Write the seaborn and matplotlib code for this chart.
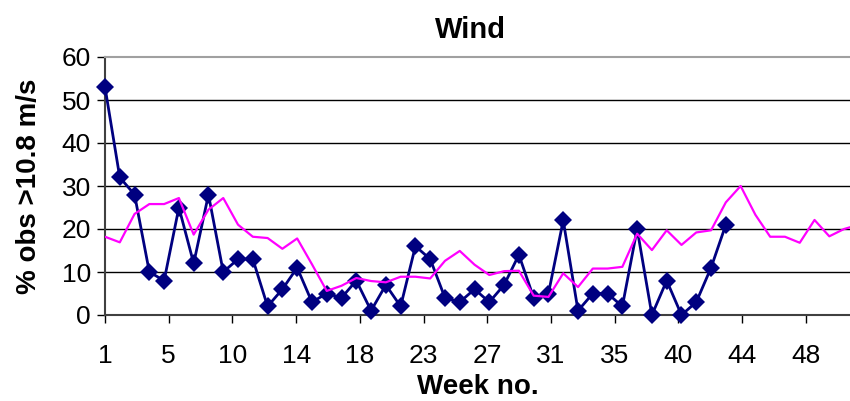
import numpy as np
import pandas as pd
import matplotlib
matplotlib.use("Agg")
import matplotlib.pyplot as plt
import seaborn as sns

# ---- data ----
weeks_obs = list(range(1, 44))
obs_pct = [53, 32, 28, 10, 8, 25, 12, 28, 10, 13, 13, 2, 6, 11, 3, 5, 4, 8, 1, 7,
           2, 16, 13, 4, 3, 6, 3, 7, 14, 4, 5, 22, 1, 5, 5, 2, 20, 0, 8, 0,
           3, 11, 21]
weeks_clim = list(range(1, 53))
clim_pct = [18.2, 16.9, 23.5, 25.8, 25.8, 27.2, 18.7, 24.5, 27.2, 21.0,
            18.2, 17.9, 15.4, 17.8, 11.8, 5.6, 6.8, 8.6, 7.9, 7.6,
            8.9, 8.9, 8.5, 12.6, 14.9, 11.7, 9.3, 10.2, 10.3, 4.5,
            4.2, 9.7, 6.5, 10.8, 10.8, 11.2, 18.9, 15.1, 19.7, 16.3,
            19.2, 19.7, 26.2, 30.0, 23.3, 18.2, 18.2, 16.8, 22.1, 18.3,
            20.0, 21.0]
tick_labels = ["1", "5", "10", "14", "18", "23", "27", "31", "35", "40", "44", "48"]
y_ticks = [0, 10, 20, 30, 40, 50, 60]

title = "Wind"
xlabel = "Week no."
ylabel = "% obs >10.8 m/s"

df_obs = pd.DataFrame({"week": weeks_obs, "pct": obs_pct})
df_clim = pd.DataFrame({"week": weeks_clim, "pct": clim_pct})

sns.set_theme(style="white")
plt.rcParams["font.family"] = ["Liberation Sans", "DejaVu Sans"]
plt.rcParams["text.color"] = "black"
plt.rcParams["axes.labelcolor"] = "black"

fig = plt.figure(figsize=(8.5, 4.01), dpi=100)
ax = fig.add_axes([105 / 850, (401 - 315) / 401, (850 - 105) / 850, 258 / 401])

sns.lineplot(data=df_obs, x="week", y="pct", ax=ax, color="#000080",
             linewidth=2.0, marker="D", markersize=9, markeredgewidth=0,
             zorder=3, clip_on=False)
sns.lineplot(data=df_clim, x="week", y="pct", ax=ax, color="#FF00FF",
             linewidth=1.6, zorder=4)

ax.set_xlim(1, 51.4)
ax.set_ylim(0, 60)
ax.set_yticks(y_ticks)
ax.set_yticklabels([str(v) for v in y_ticks])
step = 4.31
ax.set_xticks([1 + i * step for i in range(len(tick_labels))])
ax.set_xticklabels(tick_labels)

for v in y_ticks[1:-1]:
    ax.axhline(v, color="black", linewidth=1.0, zorder=1)

ax.spines["right"].set_visible(False)
ax.spines["top"].set_color("#a0a0a0")
ax.spines["top"].set_linewidth(1.5)
ax.spines["left"].set_color("#404040")
ax.spines["bottom"].set_color("#404040")
ax.spines["left"].set_linewidth(1.5)
ax.spines["bottom"].set_linewidth(1.5)

ax.tick_params(axis="both", which="both", direction="out", length=6,
               width=1.0, color="black", labelsize=19, labelcolor="black",
               bottom=True, left=True)
ax.tick_params(axis="x", pad=15)
ax.tick_params(axis="y", pad=4)

ax.set_title(title, fontsize=21, fontweight="bold", pad=14, x=(470 - 105) / 745)
ax.set_xlabel(xlabel, fontsize=20, fontweight="bold", labelpad=4)
ax.set_ylabel(ylabel, fontsize=20, fontweight="bold", labelpad=14)

fig.savefig("out.png", dpi=100)
